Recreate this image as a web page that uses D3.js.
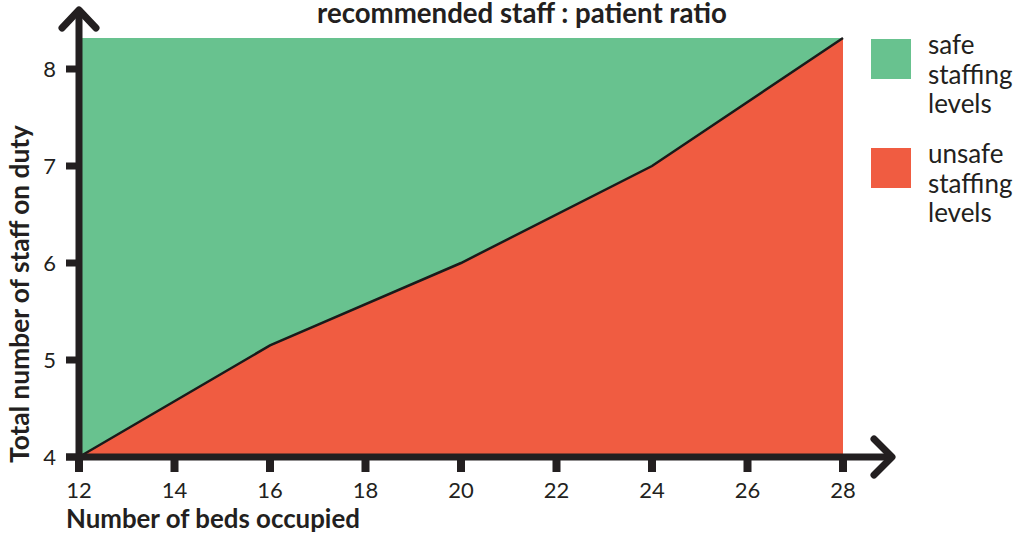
<!DOCTYPE html>
<html><head><meta charset="utf-8">
<script src="https://cdn.jsdelivr.net/npm/d3@7"></script>
<style>body{margin:0;background:#fff;} text{font-family:Lato,"Open Sans",sans-serif;fill:#231f20;}</style>
</head><body>
<svg id="c" width="1016" height="534"></svg>
<script>
const beds = [12, 16, 20, 24, 28];
const staff = [4, 5.15, 6, 7, 8.32];
const xTicks = [12, 14, 16, 18, 20, 22, 24, 26, 28];
const yTicks = [4, 5, 6, 7, 8];
const yMax = 8.32;
const legendItems = [
  {lines: ["safe", "staffing", "levels"], color: "#68c28f"},
  {lines: ["unsafe", "staffing", "levels"], color: "#f05c41"}
];

const svg = d3.select("#c");
const x = d3.scaleLinear().domain([12, 28]).range([79, 843]);
const y = d3.scaleLinear().domain([4, 8]).range([457, 69]);
const data = beds.map((b, i) => ({b, s: staff[i]}));

function fit(sel, w) {
  const n = sel.node();
  const fs = parseFloat(sel.attr("font-size"));
  const cur = n.getComputedTextLength();
  sel.attr("font-size", (fs * w / cur).toFixed(2));
}

svg.append("path").datum(data).attr("fill", "#68c28f")
  .attr("d", d3.area().x(d => x(d.b)).y0(y(yMax)).y1(d => y(d.s)));
svg.append("path").datum(data).attr("fill", "#f05c41")
  .attr("d", d3.area().x(d => x(d.b)).y0(y(4)).y1(d => y(d.s)));
svg.append("path").datum(data)
  .attr("fill", "none").attr("stroke", "#1a1a1a").attr("stroke-width", 2.5)
  .attr("d", d3.line().x(d => x(d.b)).y(d => y(d.s)));

const axisColor = "#231f20";
svg.selectAll(".yt").data(yTicks).enter().append("rect")
  .attr("x", 66).attr("y", d => y(d) - 3.5).attr("width", 12).attr("height", 7).attr("fill", axisColor);
svg.selectAll(".yl").data(yTicks).enter().append("text")
  .attr("x", 56).attr("y", d => y(d) + 8).attr("text-anchor", "end")
  .attr("font-size", 22).attr("font-weight", 400).text(d => d);
svg.selectAll(".xt").data(xTicks).enter().append("rect")
  .attr("x", d => x(d) - 4).attr("y", 457).attr("width", 8).attr("height", 15).attr("fill", axisColor);
svg.selectAll(".xl").data(xTicks).enter().append("text")
  .attr("x", d => x(d)).attr("y", 498).attr("text-anchor", "middle")
  .attr("font-size", 22).attr("font-weight", 400).text(d => d);

svg.append("line").attr("x1", x(12)).attr("x2", x(12)).attr("y1", 461).attr("y2", 10)
  .attr("stroke", axisColor).attr("stroke-width", 7);
svg.append("line").attr("x1", 66).attr("x2", 892).attr("y1", 457).attr("y2", 457)
  .attr("stroke", axisColor).attr("stroke-width", 7);
svg.append("path").attr("d", `M${x(12)-17},28 L${x(12)},10 L${x(12)+17},28`)
  .attr("fill", "none").attr("stroke", axisColor).attr("stroke-width", 7)
  .attr("stroke-linecap", "round").attr("stroke-linejoin", "round");
svg.append("path").attr("d", `M874,439 L892,457 L874,475`)
  .attr("fill", "none").attr("stroke", axisColor).attr("stroke-width", 7)
  .attr("stroke-linecap", "round").attr("stroke-linejoin", "round");

const t1 = svg.append("text").attr("x", 522).attr("y", 22.5).attr("text-anchor", "middle")
  .attr("font-size", 24).attr("font-weight", 700).text("recommended staff : patient ratio");
fit(t1, 410);
const t2 = svg.append("text").attr("x", 66).attr("y", 528)
  .attr("font-size", 23).attr("font-weight", 700).text("Number of beds occupied");
fit(t2, 294);
const t3 = svg.append("text").attr("transform", "translate(29,294) rotate(-90)").attr("text-anchor", "middle")
  .attr("font-size", 23).attr("font-weight", 700).text("Total number of staff on duty");
fit(t3, 338);

const lg = svg.selectAll(".lg").data(legendItems).enter().append("g")
  .attr("transform", (d, i) => `translate(871,${39 + i * 109})`);
lg.append("rect").attr("width", 40).attr("height", 40).attr("fill", d => d.color);
lg.each(function(d) {
  const g = d3.select(this);
  d.lines.forEach((t, j) => {
    g.append("text").attr("x", 57).attr("y", 15 + j * 29.5).attr("font-size", 24).attr("font-weight", 400).text(t);
  });
});
const probe = lg.filter((d, i) => i === 0).selectAll("text").filter((d, j) => j === 1);
const fsL = 24 * 85 / probe.node().getComputedTextLength();
lg.selectAll("text").attr("font-size", Math.min(fsL, 26).toFixed(2));
</script>
</body></html>
